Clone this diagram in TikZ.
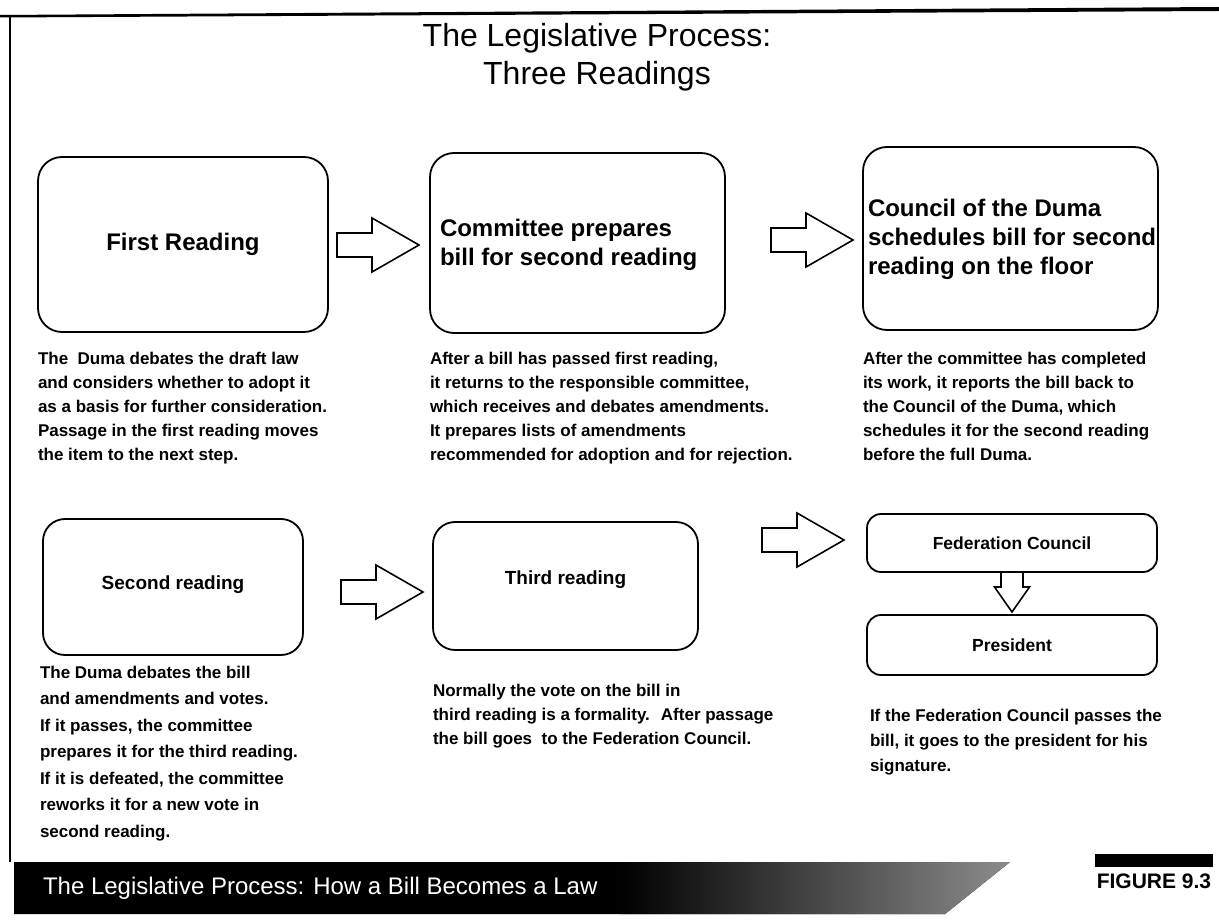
\documentclass[tikz,border=0pt]{standalone}
\usepackage{fontspec}
\setmainfont{Liberation Sans}
\usetikzlibrary{calc}
\begin{document}
\begin{tikzpicture}[x=1pt,y=-1pt,
  every node/.style={inner sep=0pt,outer sep=0pt},
  bigbox/.style={draw,line width=1.8pt,rounded corners=24pt,anchor=north west},
  midbox/.style={draw,line width=1.8pt,rounded corners=22pt,anchor=north west},
  smallbox/.style={draw,line width=1.8pt,rounded corners=14pt,anchor=north west},
  bigtxt/.style={font=\bfseries\fontsize{24}{29}\selectfont,align=left},
  midtxt/.style={font=\bfseries\fontsize{19}{23}\selectfont},
  smtxt/.style={font=\bfseries\fontsize{17.5}{21}\selectfont},
  desc/.style={font=\bfseries\fontsize{17}{24}\selectfont,align=left,anchor=north west},
  blk/.style={draw,line width=1.6pt,fill=white,line join=miter},
  rarrow/.pic={\draw[blk] (0,-12) -- (35,-12) -- (35,-27) -- (82,0) -- (35,27) -- (35,12) -- (0,12) -- cycle;},
  darrow/.pic={\draw[blk] (-11,0) -- (-11,15) -- (-17.5,15) -- (0,40) -- (17.5,15) -- (11,15) -- (11,0) -- cycle;}
]
\useasboundingbox (0,0) rectangle (1219,920);
\fill[white] (0,0) rectangle (1219,920);

% frame
\fill[black] (0,15) -- (1219,7) -- (1219,11) -- (0,17.5) -- cycle;
\draw[line width=1.5pt] (10,16) -- (10,862);

% title
\node[font=\fontsize{32}{38}\selectfont,align=center] (title) at (597,57) {The Legislative Process:\\Three Readings};

% top row boxes
\node[bigbox,minimum width=290pt,minimum height=175pt] (b1) at (38,157) {};
\node[bigtxt] (t1) at (b1.center) {First Reading};
\node[bigbox,minimum width=295pt,minimum height=180pt] (b2) at (430,153) {};
\node[bigtxt,anchor=west] (t2) at ($(b2.west)+(10,2)$) {Committee prepares\\bill for second reading};
\node[bigbox,minimum width=295pt,minimum height=183pt] (b3) at (863,147) {};
\node[bigtxt,anchor=west] (t3) at ($(b3.west)+(5,1)$) {Council of the Duma\\schedules bill for second\\reading on the floor};

\pic at ($(b2.west)+(-93,2)$) {rarrow};
\pic at ($(b3.west)+(-92,1.5)$) {rarrow};

% top row descriptions
\node[desc] (d1) at (38,352) {The \ Duma debates the draft law\\and considers whether to adopt it\\as a basis for further consideration.\\Passage in the first reading moves\\the item to the next step.};
\node[desc] (d2) at (430,352) {After a bill has passed first reading,\\it returns to the responsible committee,\\which receives and debates amendments.\\It prepares lists of amendments\\recommended for adoption and for rejection.};
\node[desc] (d3) at (863,352) {After the committee has completed\\its work, it reports the bill back to\\the Council of the Duma, which\\schedules it for the second reading\\before the full Duma.};

% lower row boxes
\node[midbox,minimum width=260pt,minimum height=136pt] (b4) at (43,519) {};
\node[midtxt] (t4) at ($(b4.center)+(0,-2)$) {Second reading};
\node[midbox,minimum width=265pt,minimum height=128pt] (b5) at (433,522) {};
\node[midtxt] (t5) at ($(b5.center)+(0,-6)$) {Third reading};
\node[smallbox,minimum width=290pt,minimum height=58pt] (fed) at (867,514) {};
\node[smtxt] (tf) at (fed.center) {Federation Council};
\node[smallbox,minimum width=290pt,minimum height=60pt] (pres) at (867,615) {};
\node[smtxt] (tp) at (pres.center) {President};

\pic at ($(b5.west)+(-92,6)$) {rarrow};
\pic at ($(fed.west)+(-105,-3)$) {rarrow};
\pic at (fed.south) {darrow};

% lower descriptions
\node[desc,font=\bfseries\fontsize{17}{26.5}\selectfont] (d4) at (40,666) {The Duma debates the bill\\and amendments and votes.\\If it passes, the committee\\prepares it for the third reading.\\If it is defeated, the committee\\reworks it for a new vote in\\second reading.};
\node[desc] (d5) at (433,684) {Normally the vote on the bill in\\third reading is a formality. \ After passage\\the bill goes \ to the Federation Council.};
\node[desc,font=\bfseries\fontsize{17}{25}\selectfont] (d6) at (870,709) {If the Federation Council passes the\\bill, it goes to the president for his\\signature.};

% bottom band
\path (14,862) -- (1010,862) -- (945,914) -- (14,914) -- cycle;
\fill[black] (14,862) -- (1010,862) -- (945,914) -- (14,914) -- cycle;
\begin{scope}
  \clip (14,862) -- (1010,862) -- (945,914) -- (14,914) -- cycle;
  \shade[left color=black,right color=black!45] (620,862) rectangle (1010,914);
\end{scope}
\node[anchor=west,text=white,font=\fontsize{24}{28}\selectfont] (band) at (43,888) {The Legislative Process: How a Bill Becomes a Law};

% figure label
\fill[black] (1095,854) rectangle (1213,867);
\node[font=\bfseries\fontsize{21}{24}\selectfont] (fig) at (1154,881) {FIGURE 9.3};
\end{tikzpicture}
\end{document}
